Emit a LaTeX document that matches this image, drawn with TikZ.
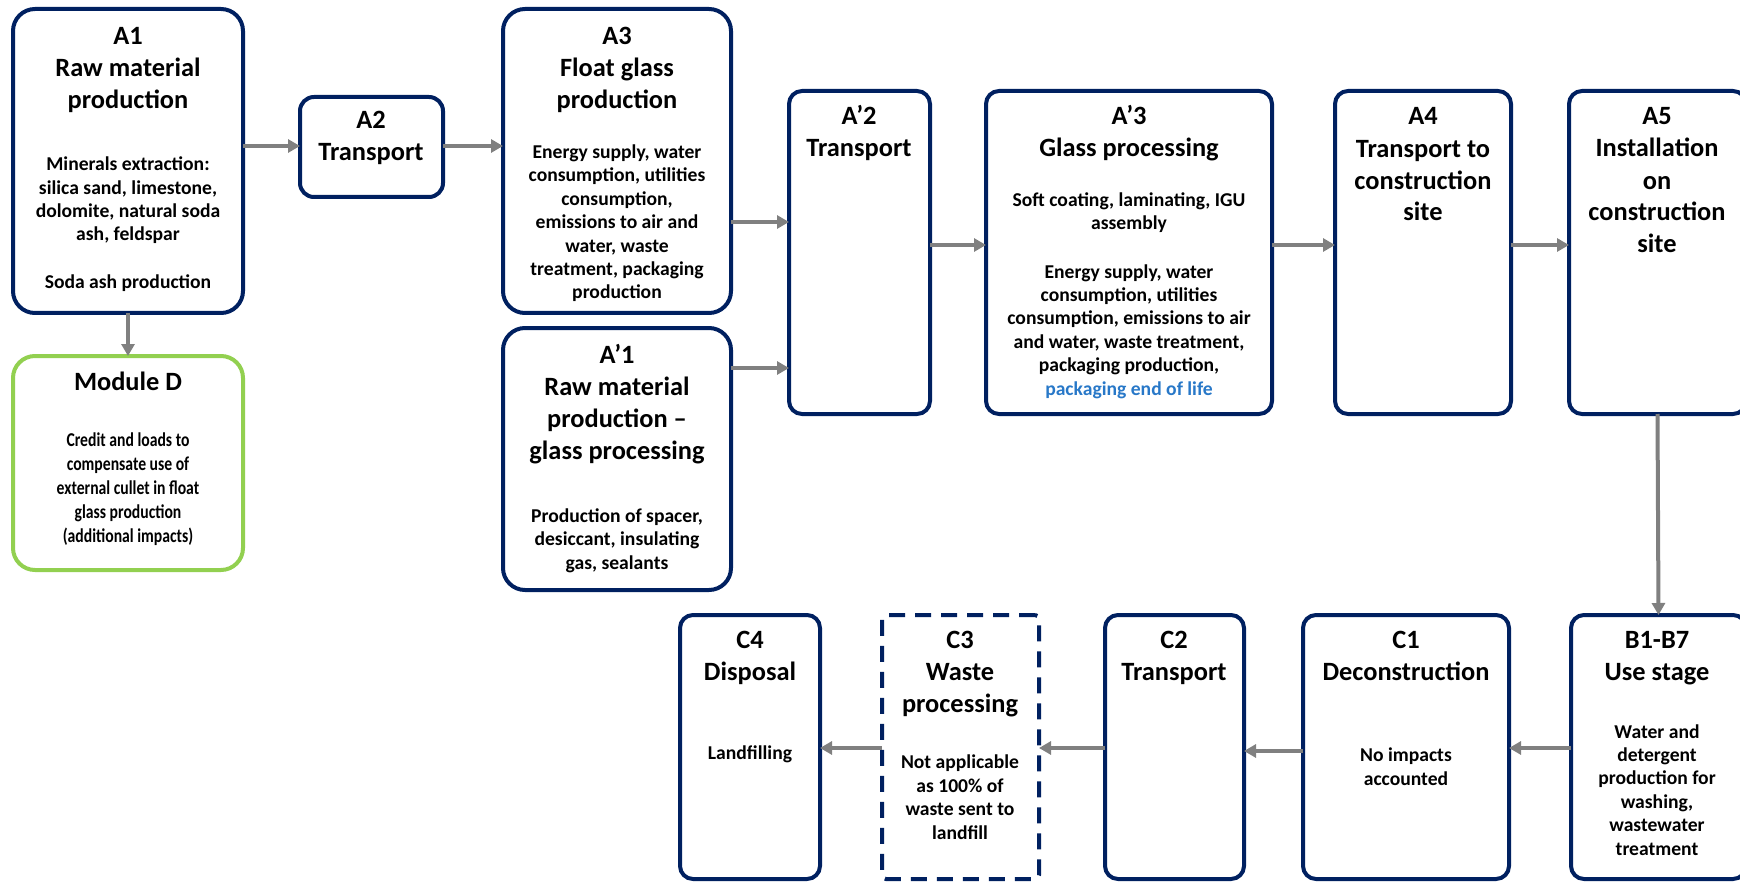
\documentclass[tikz,border=0pt]{standalone}
\usepackage{fontspec}
\setmainfont{Carlito}
\newfontfamily\condf[FakeStretch=0.8]{Carlito}
\usetikzlibrary{arrows.meta}
\definecolor{navy}{RGB}{0,32,96}
\definecolor{lgreen}{RGB}{146,208,80}
\definecolor{arrgray}{RGB}{128,128,128}
\definecolor{linkblue}{RGB}{40,120,200}
\newcommand\mkbox[6]{\node[#2, minimum width={(#5-#3)*0.5pt}, minimum height={(#6-#4)*0.5pt}] (#1) at ({(#3+#5)/2},{(#4+#6)/2}) {};}
\begin{document}
\begin{tikzpicture}[x=0.5pt,y=-0.5pt,
  box/.style={rectangle, draw=navy, line width=2pt, rounded corners=#1, inner sep=0pt, outer sep=0pt},
  box/.default=6.5pt,
  gbox/.style={rectangle, draw=lgreen, line width=2pt, rounded corners=11pt, inner sep=0pt, outer sep=0pt},
  dbox/.style={rectangle, draw=navy, line width=2pt, dash pattern=on 8pt off 5pt, rounded corners=2pt, inner sep=0pt, outer sep=0pt},
  arr/.style={draw=arrgray, line width=2pt, -{Triangle[length=6pt,width=6.5pt]}},
  ttl/.style={align=center, inner sep=0pt, anchor=base, font=\fontsize{13.2pt}{16pt}\selectfont\bfseries},
  bod/.style={align=center, inner sep=0pt, anchor=base, font=\fontsize{9.8pt}{11.7pt}\selectfont\bfseries},
  cbod/.style={align=center, inner sep=0pt, anchor=base, font=\fontsize{9.8pt}{11.9pt}\condf\bfseries}
]
\clip (0,0) rectangle (1740,882);
\useasboundingbox (0,0) rectangle (1740,882);

% boxes
\mkbox{A1}{box=11pt}{13}{9}{243}{313}
\mkbox{A2}{box=7pt}{300}{97}{443}{197}
\mkbox{A3}{box=11pt}{503}{9}{731}{313}
\mkbox{Ap1}{box=11pt}{503}{328}{731}{590}
\mkbox{Ap2}{box}{789}{91}{930}{414}
\mkbox{Ap3}{box}{986}{91}{1272}{414}
\mkbox{A4}{box}{1335}{91}{1511}{414}
\mkbox{A5}{box}{1569}{91}{1746}{414}
\mkbox{D}{gbox}{13}{356}{243}{570}
\mkbox{C4}{box}{680}{615}{820}{879}
\mkbox{C3}{dbox}{882}{615}{1039}{879}
\mkbox{C2}{box}{1105}{615}{1244}{879}
\mkbox{C1}{box}{1303}{615}{1509}{879}
\mkbox{B}{box}{1571}{615}{1746}{879}

% texts (anchor = baseline of the last line)
\node[ttl] (A1t) at (128,109) {A1\\Raw material\\production};
\node[bod] (A1b) at (128,241) {Minerals extraction:\\silica sand, limestone,\\dolomite, natural soda\\ash, feldspar};
\node[bod] (A1c) at (128,289) {Soda ash production};

\node[ttl] (A2t) at (371,161) {A2\\Transport};

\node[ttl] (A3t) at (617,109) {A3\\Float glass\\production};
\node[bod] (A3b) at (617,299) {Energy supply, water\\consumption, utilities\\consumption,\\emissions to air and\\water, waste\\treatment, packaging\\production};

\node[ttl] (Ap1t) at (617,459) {A’1\\Raw material\\production –\\glass processing};
\node[bod] (Ap1b) at (617,569) {Production of spacer,\\desiccant, insulating\\gas, sealants};

\node[ttl] (Ap2t) at (859,157) {A’2\\Transport};

\node[ttl] (Ap3t) at (1129,157) {A’3\\Glass processing};
\node[bod] (Ap3b) at (1129,230) {Soft coating, laminating, IGU\\assembly};
\node[bod] (Ap3c) at (1129,395) {Energy supply, water\\consumption, utilities\\consumption, emissions to air\\and water, waste treatment,\\packaging production,\\\textcolor{linkblue}{packaging end of life}};

\node[ttl] (A4t) at (1423,221) {A4\\Transport to\\construction\\site};
\node[ttl] (A5t) at (1657,253) {A5\\Installation\\on\\construction\\site};

\node[ttl] (Dt) at (128,390) {Module D};
\node[cbod] (Db) at (128,542) {Credit and loads to\\compensate use of\\external cullet in float\\glass production\\(additional impacts)};

\node[ttl] (C4t) at (750,680) {C4\\Disposal};
\node[bod] (C4b) at (750,759) {Landfilling};

\node[ttl] (C3t) at (960,712) {C3\\Waste\\processing};
\node[bod] (C3b) at (960,839) {Not applicable\\as 100\% of\\waste sent to\\landfill};

\node[ttl] (C2t) at (1174,680) {C2\\Transport};

\node[ttl] (C1t) at (1406,680) {C1\\Deconstruction};
\node[bod] (C1b) at (1406,785) {No impacts\\accounted};

\node[ttl] (Bt) at (1657,680) {B1-B7\\Use stage};
\node[bod] (Bb) at (1657,855) {Water and\\detergent\\production for\\washing,\\wastewater\\treatment};

% connectors
\draw[arr] (A1.east |- 0,146) -- (A2.west |- 0,146);
\draw[arr] (A2.east |- 0,146) -- (A3.west |- 0,146);
\draw[arr] (A1.south) -- (D.north);
\draw[arr] (A3.east |- 0,222) -- (Ap2.west |- 0,222);
\draw[arr] (Ap1.east |- 0,368) -- (Ap2.west |- 0,368);
\draw[arr] (Ap2.east |- 0,245) -- (Ap3.west |- 0,245);
\draw[arr] (Ap3.east |- 0,245) -- (A4.west |- 0,245);
\draw[arr] (A4.east |- 0,245) -- (A5.west |- 0,245);
\draw[arr] (A5.south) -- (B.north);
\draw[arr] (B.west |- 0,748) -- (C1.east |- 0,748);
\draw[arr] (C1.west |- 0,751) -- (C2.east |- 0,751);
\draw[arr] (C2.west |- 0,748) -- (C3.east |- 0,748);
\draw[arr] (C3.west |- 0,748) -- (C4.east |- 0,748);
\end{tikzpicture}
\end{document}
